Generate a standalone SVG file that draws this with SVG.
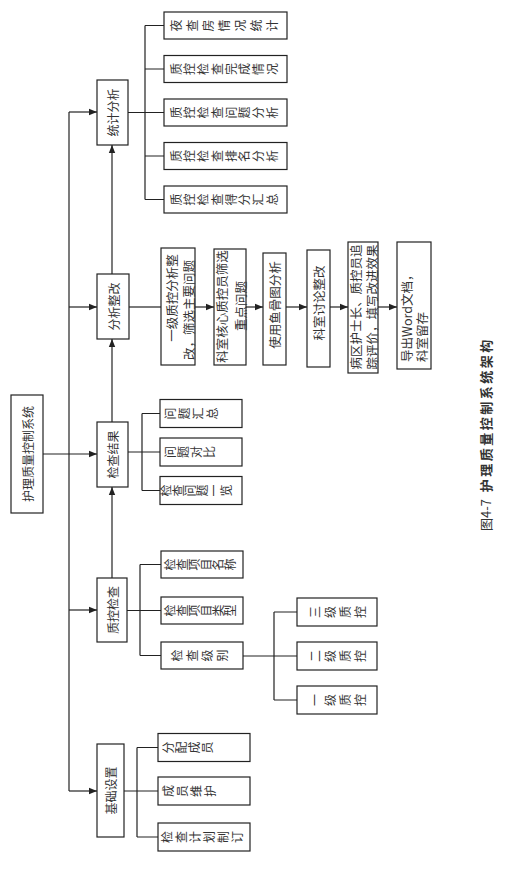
<svg xmlns="http://www.w3.org/2000/svg" width="526" height="870" viewBox="0 0 526 870">
<style>
.box{fill:#fff;stroke:#222;stroke-width:1.2}
.ln{fill:none;stroke:#222;stroke-width:1.2}
.ar{fill:none;stroke:#222;stroke-width:1.2;marker-end:url(#ah)}
.t{font-family:"Noto Sans CJK SC","Noto Sans",sans-serif;font-size:12px;fill:#333}
.m{font-size:12.5px}
.v{text-anchor:middle;dominant-baseline:central}
.s{dominant-baseline:central}
.cap{font-family:"Noto Sans CJK SC","Noto Sans",sans-serif;font-size:13px;fill:#333;dominant-baseline:central}
</style>
<defs>
<marker id="ah" viewBox="0 0 10 10" refX="10" refY="5" markerWidth="8" markerHeight="8" markerUnits="userSpaceOnUse" orient="auto"><path d="M0,1 L10,5 L0,9z" fill="#222"/></marker>
</defs>
<rect width="526" height="870" fill="#fff"/>

<g id="connectors">
<line class="ln" x1="69" y1="112" x2="69" y2="791"/>
<line class="ar" x1="43" y1="454" x2="97" y2="454"/>
<line class="ar" x1="69" y1="112" x2="97" y2="112"/>
<line class="ar" x1="69" y1="307" x2="97" y2="307"/>
<line class="ar" x1="69" y1="610" x2="97" y2="610"/>
<line class="ar" x1="69" y1="791" x2="97" y2="791"/>
<line class="ar" x1="112" y1="274" x2="112" y2="145"/>
<line class="ar" x1="112" y1="422" x2="112" y2="339"/>
<line class="ar" x1="112" y1="578" x2="112" y2="487"/>
<path class="ln" d="M128,112.5H145M145,25.5V199.5M145,25.5H164M145,69H164M145,112.5H164M145,156H164M145,199.5H164"/>
<line class="ln" x1="129" y1="307" x2="161" y2="307"/>
<line class="ar" x1="195" y1="307" x2="214" y2="307"/>
<line class="ar" x1="246" y1="307" x2="263" y2="307"/>
<line class="ar" x1="286" y1="307" x2="307" y2="307"/>
<line class="ar" x1="330" y1="307" x2="348" y2="307"/>
<line class="ar" x1="378" y1="307" x2="397" y2="307"/>
<path class="ln" d="M128,452H142M142,413.5V490.5M142,413.5H160M142,452H160M142,490.5H160"/>
<path class="ln" d="M127,610.5H140M140,564.5V655.5M140,564.5H161M140,610.5H161M140,655.5H161"/>
<path class="ln" d="M243,656H274M274,612V700M274,612H297M274,656H297M274,700H297"/>
<path class="ln" d="M124,791H137M137,747.5V837M137,747.5H158M137,791H158M137,837H158"/>
</g>

<g id="root"><rect class="box" x="11" y="395" width="32" height="118"/><text class="t v" transform="translate(27,454) rotate(-90)">护理质量控制系统</text></g>

<g id="n-tjfx"><rect class="box" x="97" y="80" width="31" height="65"/><text class="t v" transform="translate(112.5,112.5) rotate(-90)">统计分析</text></g>
<g id="n-fxzg"><rect class="box" x="97" y="274" width="32" height="65"/><text class="t v" transform="translate(113,306.5) rotate(-90)">分析整改</text></g>
<g id="n-jcjg"><rect class="box" x="97" y="422" width="31" height="65"/><text class="t v" transform="translate(112.5,454.5) rotate(-90)">检查结果</text></g>
<g id="n-zkjc"><rect class="box" x="97" y="578" width="30" height="64"/><text class="t v" transform="translate(112,610) rotate(-90)">质控检查</text></g>
<g id="n-jcsz"><rect class="box" x="97" y="744" width="27" height="93"/><text class="t v" transform="translate(110.5,790.5) rotate(-90)">基础设置</text></g>

<g id="s1"><rect class="box" x="164" y="12" width="123" height="27"/><text class="t" x="180.6 196.6 212.6 228.6 244.6 260.6 276.6" y="31.5" rotate="-90">夜查房情况统计</text></g>
<g id="s2"><rect class="box" x="164" y="55.5" width="123" height="27"/><text class="t" x="180.6 194.3 208 221.7 235.5 249.2 262.9 276.6" y="75" rotate="-90">质控检查完成情况</text></g>
<g id="s3"><rect class="box" x="164" y="99" width="123" height="27"/><text class="t" x="180.6 194.3 208 221.7 235.5 249.2 262.9 276.6" y="118.5" rotate="-90">质控检查问题分析</text></g>
<g id="s4"><rect class="box" x="164" y="142.5" width="123" height="27"/><text class="t" x="180.6 194.3 208 221.7 235.5 249.2 262.9 276.6" y="162" rotate="-90">质控检查排名分析</text></g>
<g id="s5"><rect class="box" x="164" y="186" width="123" height="27"/><text class="t" x="180.6 194.3 208 221.7 235.5 249.2 262.9 276.6" y="205.5" rotate="-90">质控检查得分汇总</text></g>

<g id="f1"><rect class="box" x="161" y="248" width="34" height="117"/><text class="t m v" transform="translate(171,298) rotate(-90)">一级质控分析整</text><text class="t m v" transform="translate(188,310) rotate(-90)">改，筛选主要问题</text></g>
<g id="f2"><rect class="box" x="214" y="249" width="32" height="116"/><text class="t m v" transform="translate(221,306.5) rotate(-90)">科室核心质控员筛选</text><text class="t m v" transform="translate(240,306) rotate(-90)">重点问题</text></g>
<g id="f3"><rect class="box" x="263" y="253" width="23" height="112"/><text class="t m v" transform="translate(274.5,305) rotate(-90)">使用鱼骨图分析</text></g>
<g id="f4"><rect class="box" x="307" y="250" width="23" height="117"/><text class="t m v" transform="translate(318.5,303) rotate(-90)">科室讨论整改</text></g>
<g id="f5"><rect class="box" x="348" y="242" width="30" height="131"/><text class="t m v" transform="translate(355,307) rotate(-90)">病区护士长、质控员追</text><text class="t m v" transform="translate(371,307) rotate(-90)">踪评价，填写改进效果</text></g>
<g id="f6"><rect class="box" x="397" y="242" width="34" height="127"/><text class="t m s" transform="translate(406,362) rotate(-90)">导出Word文档，</text><text class="t m s" transform="translate(421,362) rotate(-90)">科室留存</text></g>

<g id="r1"><rect class="box" x="160" y="399.5" width="82" height="28"/><text class="t" x="174.6 188.6 202.6 216.6" y="419.5" rotate="-90">问题汇总</text></g>
<g id="r2"><rect class="box" x="160" y="438" width="82" height="28"/><text class="t" x="174.6 187.6 200.6 213.6" y="458" rotate="-90">问题对比</text></g>
<g id="r3"><rect class="box" x="160" y="476.5" width="82" height="28"/><text class="t" x="170.6 182.6 194.6 206.6 218.6 230.6" y="496.5" rotate="-90">检查问题一览</text></g>

<g id="q1"><rect class="box" x="161" y="551" width="82" height="27"/><text class="t" x="174.6 186.6 198.6 210.6 222.6 234.6" y="570.5" rotate="-90">检查项目名称</text></g>
<g id="q2"><rect class="box" x="161" y="597" width="82" height="27"/><text class="t" x="174.6 186.6 198.6 210.6 222.6 234.6" y="616.5" rotate="-90">检查项目类型</text></g>
<g id="q3"><rect class="box" x="161" y="642" width="82" height="27"/><text class="t" x="181.6 196.6 211.6 226.6" y="661.5" rotate="-90">检查级别</text></g>

<g id="l3"><rect class="box" x="297" y="598" width="80" height="28"/><text class="t" x="319.6 334.6 349.6 364.6" y="618" rotate="-90">三级质控</text></g>
<g id="l2"><rect class="box" x="297" y="642" width="80" height="28"/><text class="t" x="319.6 334.6 349.6 364.6" y="662" rotate="-90">二级质控</text></g>
<g id="l1"><rect class="box" x="297" y="686" width="80" height="28"/><text class="t" x="319.6 334.6 349.6 364.6" y="706" rotate="-90">一级质控</text></g>

<g id="b1"><rect class="box" x="158" y="733.5" width="92" height="28"/><text class="t" x="172.6 185.6 198.6 211.6" y="753.5" rotate="-90">分配成员</text></g>
<g id="b2"><rect class="box" x="158" y="777" width="92" height="28"/><text class="t" x="172.6 186.6 200.6 214.6" y="797" rotate="-90">成员维护</text></g>
<g id="b3"><rect class="box" x="158" y="823" width="92" height="28"/><text class="t" x="171.6 185.6 199.6 213.6 227.6 241.6" y="843" rotate="-90">检查计划制订</text></g>

<g id="caption"><text class="cap" transform="translate(485,531) rotate(-90)">图4-7 <tspan dx="4" font-weight="bold" letter-spacing="2.5">护理质量控制系统架构</tspan></text></g>
</svg>
